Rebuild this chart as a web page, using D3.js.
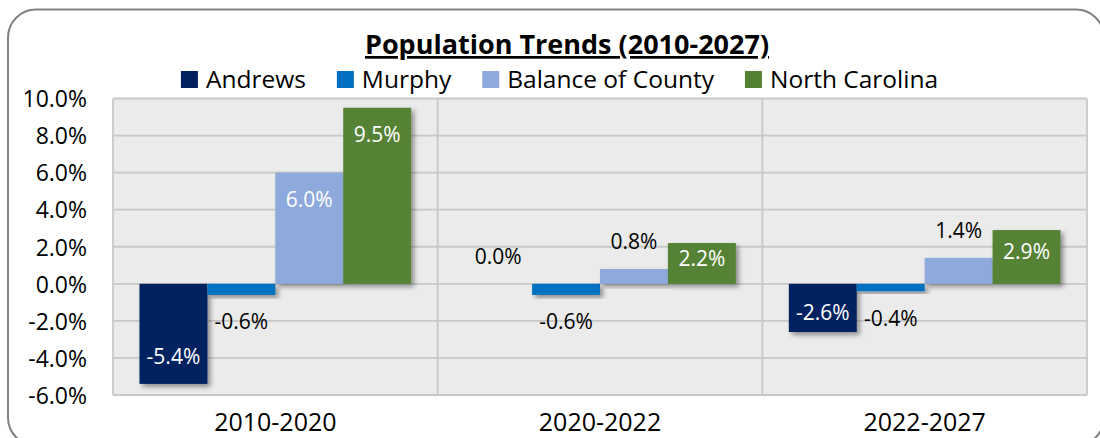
<!DOCTYPE html>
<html>
<head>
<meta charset="utf-8">
<script src="https://cdn.jsdelivr.net/npm/d3@7"></script>
<style>
    body { margin: 0; background: #ffffff; }
    text { font-family: "Open Sans", sans-serif; }
</style>
</head>
<body>
<div id="chart"></div>
<script>
var width = 1100,
    height = 438;

// data
var periods = ["2010-2020", "2020-2022", "2022-2027"];
var seriesNames = ["Andrews", "Murphy", "Balance of County", "North Carolina"];
var andrews = [-5.4, 0.0, -2.6];
var murphy = [-0.6, -0.6, -0.4];
var balance = [6.0, 0.8, 1.4];
var northCarolina = [9.5, 2.2, 2.9];
var yTicks = [-6, -4, -2, 0, 2, 4, 6, 8, 10];

var colors = ["#002060", "#0070C0", "#8EA9DB", "#548235"];
var seriesValues = [andrews, murphy, balance, northCarolina];

var plot = { left: 113, right: 1087, top: 98.5, bottom: 395 };

var svg = d3.select("#chart").append("svg")
    .attr("width", width)
    .attr("height", height);

var defs = svg.append("defs");
var shadow = defs.append("filter")
    .attr("id", "shadow")
    .attr("x", "-20%").attr("y", "-20%")
    .attr("width", "150%").attr("height", "150%");
shadow.append("feDropShadow")
    .attr("dx", 3)
    .attr("dy", 3)
    .attr("stdDeviation", 2.5)
    .attr("flood-color", "#000")
    .attr("flood-opacity", 0.4);

// outer rounded frame
svg.append("rect")
    .attr("x", 8)
    .attr("y", 9.5)
    .attr("width", 1096)
    .attr("height", 436)
    .attr("rx", 28)
    .attr("fill", "#fff")
    .attr("stroke", "#808080")
    .attr("stroke-width", 2);

var x0 = d3.scaleBand()
    .domain(periods)
    .range([plot.left, plot.right])
    .paddingInner(0)
    .paddingOuter(0);

var x1 = d3.scaleBand()
    .domain(seriesNames)
    .range([0, x0.bandwidth()])
    .paddingInner(0)
    .paddingOuter(0.39);

var y = d3.scaleLinear()
    .domain([-6, 10])
    .range([plot.bottom, plot.top]);

// plot background
svg.append("rect")
    .attr("x", plot.left)
    .attr("y", plot.top)
    .attr("width", plot.right - plot.left)
    .attr("height", plot.bottom - plot.top)
    .attr("fill", "#EBEBEB");

var grid = svg.append("g").attr("class", "grid");

grid.selectAll("line.h")
    .data(yTicks)
    .enter()
    .append("line")
    .attr("class", "h")
    .attr("x1", plot.left)
    .attr("x2", plot.right)
    .attr("y1", function(d) { return y(d); })
    .attr("y2", function(d) { return y(d); })
    .attr("stroke", "#C8C8C8")
    .attr("stroke-width", 1.8);

var bounds = periods.map(function(p) { return x0(p); }).concat([plot.right]);
grid.selectAll("line.v")
    .data(bounds)
    .enter()
    .append("line")
    .attr("class", "v")
    .attr("x1", function(d) { return d; })
    .attr("x2", function(d) { return d; })
    .attr("y1", plot.top)
    .attr("y2", plot.bottom)
    .attr("stroke", "#C8C8C8")
    .attr("stroke-width", 1.8);

// flatten to one record per bar
var bars = [];
seriesNames.forEach(function(s, si) {
    periods.forEach(function(p, pi) {
        bars.push({ series: s, si: si, period: p, value: seriesValues[si][pi] });
    });
});

var barG = svg.append("g").attr("class", "bars");

seriesNames.forEach(function(s, si) {
    barG.selectAll("rect.s" + si)
        .data(bars.filter(function(d) { return d.si == si; }))
        .enter()
        .append("rect")
        .attr("class", "s" + si)
        .attr("x", function(d) { return x0(d.period) + x1(d.series); })
        .attr("width", x1.bandwidth())
        .attr("y", function(d) { return y(Math.max(0, d.value)); })
        .attr("height", function(d) { return Math.abs(y(d.value) - y(0)); })
        .attr("fill", colors[si])
        .attr("filter", "url(#shadow)");
});

// data labels: inside end for the big bars, outside end for the small ones
var fmt = function(v) { return v.toFixed(1) + "%"; };

svg.append("g")
    .attr("class", "labels")
    .selectAll("text")
    .data(bars)
    .enter()
    .append("text")
    .attr("x", function(d) { return x0(d.period) + x1(d.series) + x1.bandwidth() / 2; })
    .attr("y", function(d) {
        var end = y(d.value),
            h = Math.abs(end - y(0)),
            dir = d.value < 0 ? 1 : -1;
        if (Math.abs(d.value) >= 2) {
            return end - dir * Math.min(27, h / 2 - 5);
        }
        return end + dir * 27;
    })
    .attr("dy", "0.35em")
    .attr("text-anchor", "middle")
    .attr("font-size", "21px")
    .attr("fill", function(d) { return Math.abs(d.value) >= 2 ? "#fff" : "#000"; })
    .text(function(d) { return fmt(d.value); });

// y axis labels
var yAxis = d3.axisLeft(y)
    .tickValues(yTicks)
    .tickSize(0)
    .tickPadding(0)
    .tickFormat(function(d) { return d.toFixed(1) + "%"; });

var yg = svg.append("g")
    .attr("transform", "translate(87,0)")
    .call(yAxis);
yg.select(".domain").remove();
yg.selectAll("text")
    .attr("font-family", "Open Sans")
    .attr("font-size", "23px")
    .attr("fill", "#000")
    .attr("dy", "0.36em");

// x axis labels
var xAxis = d3.axisBottom(x0)
    .tickSize(0)
    .tickPadding(0);

var xg = svg.append("g")
    .call(xAxis);
xg.select(".domain").remove();
xg.selectAll("text")
    .attr("font-family", "Open Sans")
    .attr("font-size", "25px")
    .attr("fill", "#000")
    .attr("y", 431)
    .attr("dy", 0);

// title
svg.append("text")
    .attr("x", 567)
    .attr("y", 54)
    .attr("text-anchor", "middle")
    .attr("font-size", "27px")
    .attr("font-weight", "bold")
    .attr("text-decoration", "underline")
    .attr("fill", "#000")
    .text("Population Trends (2010-2027)");

// legend
var legend = svg.append("g").attr("class", "legend");
var lx = 0;
seriesNames.forEach(function(s, i) {
    var item = legend.append("g").attr("transform", "translate(" + lx + ",0)");
    item.append("rect")
        .attr("x", 0)
        .attr("y", 71)
        .attr("width", 17)
        .attr("height", 17)
        .attr("fill", colors[i]);
    var t = item.append("text")
        .attr("x", 25)
        .attr("y", 87.5)
        .attr("font-size", "24.5px")
        .attr("fill", "#000")
        .text(s);
    lx += 25 + t.node().getComputedTextLength() + 31;
});
var legendWidth = lx - 31;
legend.attr("transform", "translate(" + (559.5 - legendWidth / 2) + ",0)");
</script>
</body>
</html>
